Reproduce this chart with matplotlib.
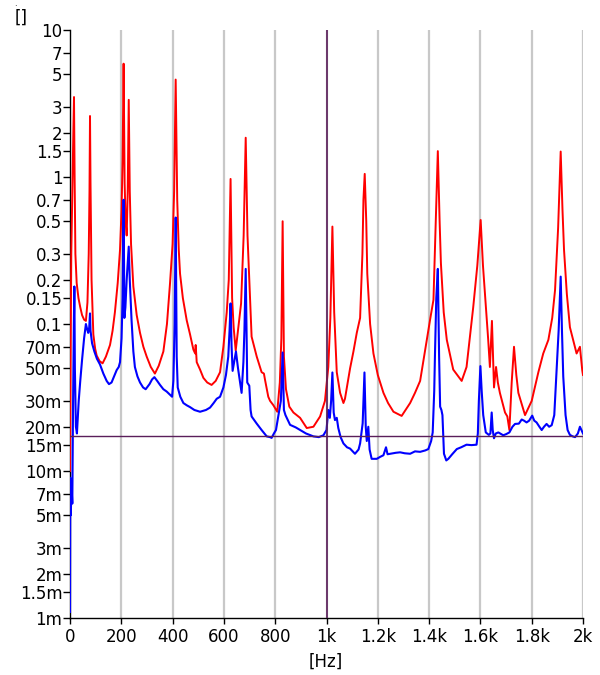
import matplotlib
matplotlib.use("Agg")
import matplotlib.pyplot as plt
import numpy as np

# ---------------- data ----------------
red_freq = [0, 2, 5, 9, 13, 15.6, 18, 21, 26, 33,
            40, 47, 55, 62, 68, 73, 76, 78, 80, 84,
            91, 98, 104, 115, 127, 140, 156, 166, 175, 186,
            195, 201, 205, 209, 213, 217, 221, 225, 229, 233,
            238, 247, 260, 273, 286, 299, 315, 331, 346, 364,
            378, 390, 400, 406, 412, 418, 424, 429, 440, 455,
            468, 481, 488, 490, 494, 507, 520, 535, 552, 568,
            585, 598, 611, 619, 626, 632, 638, 646, 655, 667,
            677, 685, 692, 702, 708, 728, 747, 756, 760, 773,
            780, 793, 808, 818, 824, 829, 834, 842, 855, 871,
            897, 923, 949, 975, 994, 1007, 1015, 1023, 1030, 1040,
            1053, 1066, 1072, 1092, 1105, 1118, 1131, 1140, 1144, 1149,
            1155, 1159, 1170, 1183, 1200, 1222, 1240, 1261, 1293, 1326,
            1345, 1365, 1391, 1405, 1417, 1426, 1434, 1441, 1446, 1457,
            1469, 1494, 1514, 1527, 1546, 1572, 1588, 1601, 1610, 1618,
            1630, 1637, 1645, 1653, 1661, 1668, 1676, 1696, 1705, 1713,
            1722, 1731, 1740, 1748, 1774, 1800, 1826, 1845, 1865, 1880,
            1891, 1903, 1913, 1920, 1926, 1937, 1949, 1975, 1988, 1997,
            2000]
red_amp = [0.010, 0.05, 0.30, 0.8, 2.0, 3.5, 1.0, 0.30, 0.19, 0.15,
           0.13, 0.115, 0.107, 0.105, 0.14, 0.3, 0.8, 2.6, 0.9, 0.2,
           0.085, 0.068, 0.061, 0.056, 0.054, 0.060, 0.072, 0.09, 0.12, 0.19,
           0.32, 0.6, 1.3, 5.9, 0.9, 0.5, 0.40, 0.8, 3.35, 0.8,
           0.35, 0.18, 0.115, 0.087, 0.070, 0.060, 0.051, 0.046, 0.052, 0.065,
           0.10, 0.19, 0.35, 0.8, 4.6, 0.7, 0.32, 0.22, 0.15, 0.106,
           0.085, 0.067, 0.063, 0.072, 0.055, 0.049, 0.043, 0.040, 0.0385, 0.041,
           0.047, 0.070, 0.12, 0.20, 0.97, 0.15, 0.095, 0.066, 0.09, 0.138,
           0.40, 1.85, 0.40, 0.15, 0.082, 0.060, 0.047, 0.046, 0.042, 0.032,
           0.030, 0.028, 0.0253, 0.040, 0.08, 0.50, 0.06, 0.036, 0.0274, 0.025,
           0.023, 0.0196, 0.020, 0.0235, 0.030, 0.051, 0.11, 0.46, 0.12, 0.047,
           0.034, 0.029, 0.031, 0.050, 0.065, 0.087, 0.11, 0.3, 0.7, 1.05,
           0.5, 0.22, 0.1, 0.063, 0.045, 0.034, 0.029, 0.0253, 0.0237, 0.029,
           0.034, 0.041, 0.078, 0.11, 0.146, 0.5, 1.5, 0.5, 0.26, 0.12,
           0.078, 0.049, 0.044, 0.041, 0.051, 0.13, 0.25, 0.51, 0.25, 0.16,
           0.08, 0.051, 0.105, 0.037, 0.051, 0.04, 0.034, 0.025, 0.0235, 0.019,
           0.04, 0.070, 0.045, 0.034, 0.024, 0.030, 0.047, 0.063, 0.078, 0.11,
           0.17, 0.45, 1.49, 0.6, 0.32, 0.16, 0.095, 0.063, 0.070, 0.0486,
           0.045]

blue_freq = [0, 1, 3, 6, 9, 12, 15, 17, 19, 23,
             27, 34, 40, 47, 55, 62, 67, 71, 75, 78,
             80, 86, 95, 105, 117, 130, 143, 152, 162, 172,
             182, 190, 195, 201, 205, 209, 212, 216, 221, 229,
             233, 240, 247, 253, 263, 273, 285, 295, 310, 320,
             329, 340, 351, 364, 377, 390, 398, 403, 408, 412,
             416, 420, 430, 442, 455, 468, 485, 507, 530, 546,
             560, 572, 585, 598, 608, 617, 622, 626, 630, 634,
             640, 647, 655, 663, 669, 676, 680, 685, 691, 699,
             704, 708, 728, 747, 767, 780, 786, 795, 803, 812,
             822, 829, 834, 840, 858, 880, 897, 920, 949, 970,
             988, 1000, 1007, 1013, 1018, 1023, 1028, 1033, 1040, 1046,
             1055, 1066, 1080, 1092, 1111, 1125, 1131, 1141, 1148, 1153,
             1157, 1163, 1168, 1176, 1196, 1210, 1222, 1232, 1238, 1248,
             1270, 1287, 1305, 1326, 1345, 1365, 1385, 1397, 1408, 1414,
             1420, 1423, 1428, 1434, 1439, 1443, 1448, 1452, 1458, 1467,
             1475, 1490, 1508, 1525, 1546, 1565, 1585, 1590, 1594, 1600,
             1605, 1611, 1621, 1633, 1639, 1644, 1648, 1653, 1660, 1670,
             1689, 1700, 1713, 1725, 1735, 1750, 1761, 1770, 1780, 1790,
             1802, 1810, 1819, 1830, 1839, 1848, 1858, 1868, 1878, 1888,
             1897, 1905, 1913, 1918, 1923, 1932, 1940, 1949, 1960, 1969,
             1980, 1988, 1994, 2000]
blue_amp = [0.0011, 0.009, 0.005, 0.008, 0.006, 0.03, 0.1, 0.18, 0.05, 0.020,
            0.018, 0.030, 0.041, 0.057, 0.08, 0.100, 0.092, 0.087, 0.095, 0.118,
            0.09, 0.074, 0.065, 0.058, 0.053, 0.046, 0.041, 0.039, 0.040, 0.044,
            0.0486, 0.051, 0.055, 0.08, 0.15, 0.70, 0.11, 0.13, 0.20, 0.336,
            0.2, 0.106, 0.065, 0.051, 0.044, 0.040, 0.037, 0.036, 0.039, 0.042,
            0.0435, 0.041, 0.0385, 0.036, 0.0347, 0.033, 0.032, 0.041, 0.1, 0.53,
            0.06, 0.037, 0.032, 0.029, 0.028, 0.0272, 0.026, 0.0253, 0.026, 0.027,
            0.029, 0.031, 0.032, 0.037, 0.045, 0.060, 0.09, 0.138, 0.07, 0.048,
            0.055, 0.065, 0.05, 0.040, 0.034, 0.055, 0.09, 0.237, 0.040, 0.038,
            0.026, 0.0235, 0.021, 0.019, 0.0172, 0.017, 0.0168, 0.018, 0.019, 0.0235,
            0.030, 0.064, 0.026, 0.024, 0.0206, 0.0198, 0.019, 0.018, 0.0172, 0.017,
            0.0175, 0.019, 0.026, 0.023, 0.03, 0.0468, 0.025, 0.0222, 0.023, 0.0196,
            0.017, 0.0154, 0.0145, 0.0142, 0.0131, 0.014, 0.0154, 0.0211, 0.0468, 0.02,
            0.016, 0.02, 0.014, 0.0121, 0.0121, 0.0125, 0.0128, 0.0145, 0.013, 0.0131,
            0.0133, 0.0134, 0.0132, 0.0131, 0.0136, 0.0135, 0.0138, 0.0141, 0.016, 0.0183,
            0.035, 0.063, 0.15, 0.237, 0.06, 0.0274, 0.026, 0.024, 0.0131, 0.0118,
            0.0121, 0.013, 0.0141, 0.0145, 0.0151, 0.015, 0.0151, 0.018, 0.03, 0.0517,
            0.035, 0.024, 0.0183, 0.0176, 0.018, 0.025, 0.019, 0.0167, 0.018, 0.0183,
            0.0175, 0.0178, 0.0183, 0.020, 0.0209, 0.021, 0.0224, 0.022, 0.0214, 0.022,
            0.0238, 0.022, 0.0214, 0.020, 0.019, 0.020, 0.0209, 0.020, 0.0205, 0.024,
            0.0486, 0.09, 0.21, 0.09, 0.044, 0.024, 0.019, 0.0176, 0.0172, 0.017,
            0.018, 0.020, 0.019, 0.018]

cursor_freq = 1000
cursor_level = 0.0173

x_ticks = [0, 200, 400, 600, 800, 1000, 1200, 1400, 1600, 1800, 2000]
x_tick_labels = ["0", "200", "400", "600", "800", "1k", "1.2k", "1.4k", "1.6k", "1.8k", "2k"]
y_ticks = [1e-3, 1.5e-3, 2e-3, 3e-3, 5e-3, 7e-3, 1e-2, 1.5e-2, 2e-2, 3e-2, 5e-2, 7e-2,
           0.1, 0.15, 0.2, 0.3, 0.5, 0.7, 1, 1.5, 2, 3, 5, 7, 10]
y_tick_labels = ["1m", "1.5m", "2m", "3m", "5m", "7m", "10m", "15m", "20m", "30m", "50m", "70m",
                 "0.1", "0.15", "0.2", "0.3", "0.5", "0.7", "1", "1.5", "2", "3", "5", "7", "10"]

assert len(red_freq) == len(red_amp)
assert len(blue_freq) == len(blue_amp)

# ---------------- figure ----------------
plt.rcParams['font.family'] = ['DejaVu Sans']
fig = plt.figure(figsize=(6.0, 6.75), dpi=100)
ax = fig.add_axes([70/600, 1 - 618/675, (583-70)/600, (618-30)/675])

ax.set_yscale('log')
ax.set_xlim(0, 2000)
ax.set_ylim(1e-3, 10)

for xt in x_ticks[1:]:
    ax.axvline(xt, color='#c8c8c8', lw=1.6, zorder=0)

ax.plot(red_freq, red_amp, color='#ff0000', lw=1.4, zorder=3)
ax.plot(blue_freq, blue_amp, color='#0000ff', lw=1.5, zorder=4)

ax.axvline(cursor_freq, color='#5a1e5a', lw=1.2, zorder=5)
ax.axhline(cursor_level, color='#5a1e5a', lw=1.0, zorder=5)

ax.set_xticks(x_ticks)
ax.set_xticklabels(x_tick_labels)
ax.set_yticks(y_ticks)
ax.set_yticklabels(y_tick_labels)
ax.yaxis.set_minor_locator(matplotlib.ticker.NullLocator())
ax.tick_params(axis='y', direction='out', length=5, width=1, pad=0.5, labelsize=12)
ax.tick_params(axis='x', direction='out', length=4.5, width=1, pad=3, labelsize=12)

for s in ['top', 'right']:
    ax.spines[s].set_visible(False)
for s in ['left', 'bottom']:
    ax.spines[s].set_linewidth(1.0)
    ax.spines[s].set_color('black')

fig.text(21/600, 1 - 18/675, "[]", ha='center', va='center', fontsize=12)
fig.text(15/600, 1 - 4/675, ".", ha='center', va='center', fontsize=6)
fig.text(326/600, 1 - 662/675, "[Hz]", ha='center', va='center', fontsize=12)

fig.savefig("out.png", dpi=100)
